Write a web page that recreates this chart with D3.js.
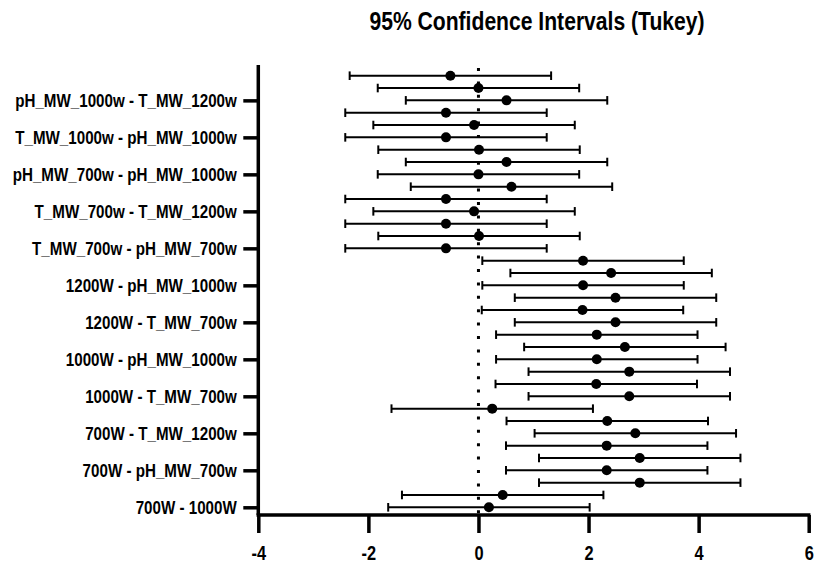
<!DOCTYPE html>
<html>
<head>
<meta charset="utf-8">
<script src="https://cdn.jsdelivr.net/npm/d3@7"></script>
<style>
  body { margin: 0; background: #fff; }
  svg { display: block; }
  text { font-family: "Liberation Sans", Arial, sans-serif; font-weight: bold; fill: #000; }
</style>
</head>
<body>
<svg id="chart" width="817" height="565"></svg>
<script>
// Tukey multiple comparisons, bottom row first
const comparisons = [
  "700W - 1000W", "700W - 1200W", "700W - T_MW_700w", "700W - pH_MW_700w",
  "700W - T_MW_1000w", "700W - pH_MW_1000w", "700W - T_MW_1200w", "700W - pH_MW_1200w",
  "1000W - 1200W", "1000W - T_MW_700w", "1000W - pH_MW_700w", "1000W - T_MW_1000w",
  "1000W - pH_MW_1000w", "1000W - T_MW_1200w", "1000W - pH_MW_1200w",
  "1200W - T_MW_700w", "1200W - pH_MW_700w", "1200W - T_MW_1000w", "1200W - pH_MW_1000w",
  "1200W - T_MW_1200w", "1200W - pH_MW_1200w",
  "T_MW_700w - pH_MW_700w", "T_MW_700w - T_MW_1000w", "T_MW_700w - pH_MW_1000w",
  "T_MW_700w - T_MW_1200w", "T_MW_700w - pH_MW_1200w",
  "pH_MW_700w - T_MW_1000w", "pH_MW_700w - pH_MW_1000w", "pH_MW_700w - T_MW_1200w",
  "pH_MW_700w - pH_MW_1200w",
  "T_MW_1000w - pH_MW_1000w", "T_MW_1000w - T_MW_1200w", "T_MW_1000w - pH_MW_1200w",
  "pH_MW_1000w - T_MW_1200w", "pH_MW_1000w - pH_MW_1200w",
  "T_MW_1200w - pH_MW_1200w"
];

// Mean difference and 95% CI bounds for each comparison
const meanDiff = [
  0.19, 0.44, 2.93, 2.33, 2.93, 2.33, 2.85, 2.34,
  0.25, 2.74, 2.14, 2.74, 2.15, 2.66, 2.15,
  2.49, 1.89, 2.49, 1.90, 2.41, 1.90,
  -0.59, 0.01, -0.59, -0.08, -0.59,
  0.60, 0.00, 0.51, 0.01,
  -0.59, -0.08, -0.59,
  0.51, 0.00,
  -0.51
];
const lowerCI = [
  -1.64, -1.39, 1.10, 0.50, 1.10, 0.50, 1.02, 0.51,
  -1.58, 0.91, 0.31, 0.91, 0.32, 0.83, 0.32,
  0.66, 0.06, 0.66, 0.07, 0.58, 0.07,
  -2.42, -1.82, -2.42, -1.91, -2.42,
  -1.23, -1.83, -1.32, -1.82,
  -2.42, -1.91, -2.42,
  -1.32, -1.83,
  -2.34
];
const upperCI = [
  2.02, 2.27, 4.76, 4.16, 4.76, 4.16, 4.68, 4.17,
  2.08, 4.57, 3.97, 4.57, 3.98, 4.49, 3.98,
  4.32, 3.72, 4.32, 3.73, 4.24, 3.73,
  1.24, 1.84, 1.24, 1.75, 1.24,
  2.43, 1.83, 2.34, 1.84,
  1.24, 1.75, 1.24,
  2.34, 1.83,
  1.32
];

// Rows that carry a label on the y axis
const yTickLabels = [
  "700W - 1000W", "700W - pH_MW_700w", "700W - T_MW_1200w", "1000W - T_MW_700w",
  "1000W - pH_MW_1000w", "1200W - T_MW_700w", "1200W - pH_MW_1000w",
  "T_MW_700w - pH_MW_700w", "T_MW_700w - T_MW_1200w", "pH_MW_700w - pH_MW_1000w",
  "T_MW_1000w - pH_MW_1000w", "pH_MW_1000w - T_MW_1200w"
];
const xTickValues = [-4, -2, 0, 2, 4, 6];
const titleText = "95% Confidence Intervals (Tukey)";

const rows = comparisons.map((name, i) => ({
  name, mean: meanDiff[i], lo: lowerCI[i], hi: upperCI[i]
}));

const svg = d3.select("#chart");
const x = d3.scaleLinear().domain([-4, 6]).range([258.3, 808.7]);
const y = d3.scalePoint().domain(comparisons).range([507.3, 75.7]);
const axisY = 515, plotTop = 65;

// Condensed bold lettering: squeeze glyphs horizontally around their anchor
function narrow(sel, k) {
  sel.each(function () {
    const t = d3.select(this);
    const tx = +t.attr("x") || 0;
    t.attr("transform", `translate(${tx},0) scale(${k},1) translate(${-tx},0)`);
  });
}

// Title
svg.append("text")
  .attr("x", 537).attr("y", 30)
  .attr("text-anchor", "middle")
  .style("font-size", "25px")
  .text(titleText)
  .call(narrow, 0.845);

// Zero reference line
svg.append("line")
  .attr("x1", x(0)).attr("x2", x(0))
  .attr("y1", 68).attr("y2", axisY)
  .attr("stroke", "#000").attr("stroke-width", 3)
  .attr("stroke-dasharray", "3 10.4");

// Error bars
const bars = svg.append("g").selectAll("g").data(rows).join("g");
bars.append("line")
  .attr("x1", d => x(d.lo)).attr("x2", d => x(d.hi))
  .attr("y1", d => y(d.name)).attr("y2", d => y(d.name))
  .attr("stroke", "#000").attr("stroke-width", 2);
bars.selectAll("line.cap").data(d => [[d.lo, d.name], [d.hi, d.name]]).join("line")
  .attr("class", "cap")
  .attr("x1", d => x(d[0])).attr("x2", d => x(d[0]))
  .attr("y1", d => y(d[1]) - 4.3).attr("y2", d => y(d[1]) + 4.3)
  .attr("stroke", "#000").attr("stroke-width", 2);
bars.append("circle")
  .attr("cx", d => x(d.mean)).attr("cy", d => y(d.name))
  .attr("r", 5).attr("fill", "#000");

// Y axis
const gy = svg.append("g")
  .attr("transform", `translate(${x(-4)},0)`)
  .call(d3.axisLeft(y).tickValues(yTickLabels).tickSize(15).tickPadding(6.5));
gy.select(".domain").remove();
gy.selectAll(".tick line").attr("stroke", "#000").attr("stroke-width", 3.5);
gy.selectAll(".tick text").style("font-size", "18.5px").attr("fill", "#000").call(narrow, 0.82);
gy.append("line")
  .attr("x1", 0).attr("x2", 0).attr("y1", plotTop).attr("y2", axisY)
  .attr("stroke", "#000").attr("stroke-width", 3.5);

// X axis (plain hyphen for negative values)
const gx = svg.append("g")
  .attr("transform", `translate(0,${axisY})`)
  .call(d3.axisBottom(x).tickValues(xTickValues).tickFormat(d => String(d))
    .tickSize(18).tickPadding(13));
gx.select(".domain").remove();
gx.selectAll(".tick line").attr("stroke", "#000").attr("stroke-width", 3.5);
gx.selectAll(".tick text").style("font-size", "20px").attr("fill", "#000").call(narrow, 0.82);
gx.append("line")
  .attr("x1", x(-4) - 1.75).attr("x2", x(6) + 1.75).attr("y1", 0).attr("y2", 0)
  .attr("stroke", "#000").attr("stroke-width", 3.5);
</script>
</body>
</html>
